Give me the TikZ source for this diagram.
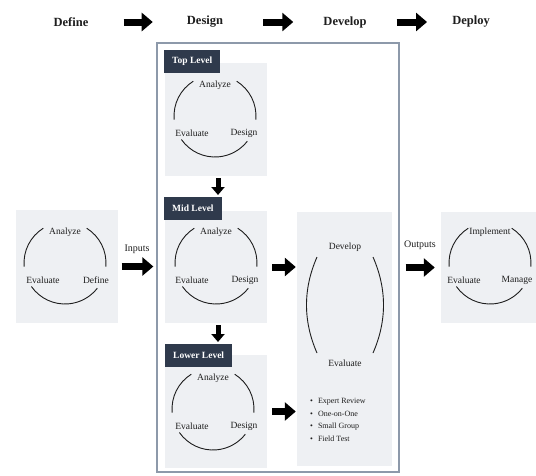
\documentclass[tikz,border=0pt]{standalone}
\usepackage{fontspec}
\setmainfont{Liberation Serif}
\usetikzlibrary{arrows.meta}
\definecolor{Ink}    {HTML}{1E1E1E}
\definecolor{Slate}  {HTML}{2F3A4C}
\definecolor{PanelF} {HTML}{EEF0F3}
\definecolor{Frame}  {HTML}{8D99AA}
\tikzset{
  phase/.style={
    font=\fontsize{12.5}{14}\selectfont\bfseries,
    text=Ink, inner sep=0pt,
  },
  panel/.style={
    rectangle, fill=PanelF, draw=none, inner sep=0pt,
    minimum width=102pt, minimum height=113pt,
  },
  tag/.style={
    rectangle, fill=Slate, text=white, anchor=north west,
    font=\fontsize{9.5}{11}\selectfont\bfseries,
    inner xsep=8pt, inner ysep=0pt, minimum height=23pt,
  },
  word/.style={
    font=\fontsize{9.5}{11}\selectfont, text=Ink, inner sep=1pt,
  },
  cyc/.style={line width=0.9pt, draw=Ink},
  % block arrows
  fat/.style={
    -{Triangle[length=11pt,width=18pt]},
    line width=7pt, draw=black,
  },
  slim/.style={
    -{Triangle[length=8pt,width=13pt]},
    line width=5pt, draw=black,
  },
}
\begin{document}
\begin{tikzpicture}[x=1pt,y=-1pt]
  \useasboundingbox (0,0) rectangle (536,475);

  % phases along the top
  \node[phase] (define)  at (71,22)  {Define};
  \node[phase] (design)  at (205,22) {Design};
  \node[phase] (develop) at (345,22) {Develop};
  \node[phase] (deploy)  at (471,22) {Deploy};
  \draw[fat, shorten <=35pt, shorten >=34pt] (define) -- (design);
  \draw[fat, shorten <=40pt, shorten >=30pt] (design) -- (develop);
  \draw[fat, shorten <=30pt, shorten >=25pt] (develop) -- (deploy);

  \node[draw=Frame, line width=1.3pt, inner sep=0pt,
        minimum width=242pt, minimum height=429pt] (frame) at (278,257.5) {};

  \node[panel] (leftpan) at (66.5,266.5) {};
  \node[panel] (toppan)  at (216,119.5) {};
  \node[panel, minimum height=112pt] (midpan) at (216,267) {};
  \node[panel] (lowpan)  at (216,411.5) {};
  \node[panel, minimum width=95pt, minimum height=254pt] (devpan) at (344.5,339) {};
  \node[panel, minimum width=95pt, minimum height=111pt] (rightpan) at (488.5,267.5) {};

  \node[tag] (toptag) at (164,50)  {Top Level};
  \node[tag] (midtag) at (164,197) {Mid Level};
  \node[tag] (lowtag) at (165,344) {Lower Level};

  \coordinate (cleft)  at (65,263);
  \coordinate (ctop)   at (215,116);
  \coordinate (cmid)   at (216,263);
  \coordinate (clow)   at (213,409);
  \coordinate (cright) at (490,263);

  \foreach \c/\up/\side/\dl/\dr in {cleft/Analyze/Define/-22/31,
      ctop/Analyze/Design/-23/29, cmid/Analyze/Design/-24/29,
      clow/Analyze/Design/-21/31, cright/Implement/Manage/-26/27}{
    \draw[cyc] ([shift={(-122:41)}]\c) arc[start angle=-122, end angle=-185, radius=41];
    \draw[cyc] ([shift={(-58:41)}]\c) arc[start angle=-58, end angle=5, radius=41];
    \draw[cyc] ([shift={(-215:41)}]\c) arc[start angle=-215, end angle=-322, radius=41];
    \node[word] (\c-up)   at ([shift={(0,-31)}]\c)   {\up};
    \node[word] (\c-eval) at ([shift={(\dl,17)}]\c)  {Evaluate};
    \node[word] (\c-side) at ([shift={(\dr,17)}]\c)  {\side};
  }

  % develop / evaluate loop
  \coordinate (cdev) at (345,305);
  \node[word] (devtop) at (345,247) {Develop};
  \node[word] (devbot) at (345,363) {Evaluate};
  \draw[cyc] ([shift={(-28,-48)}]cdev) .. controls ([shift={(-42,-16)}]cdev)
    and ([shift={(-42,16)}]cdev) .. ([shift={(-28,48)}]cdev);
  \draw[cyc] ([shift={(28,-48)}]cdev) .. controls ([shift={(42,-16)}]cdev)
    and ([shift={(42,16)}]cdev) .. ([shift={(28,48)}]cdev);
  \node[word, font=\fontsize{8}{12.5}\selectfont, align=left, inner sep=0pt,
        anchor=north west] (tests) at (310,398)
    {\textbullet\hspace{5pt}Expert Review\\ \textbullet\hspace{5pt}One-on-One\\
     \textbullet\hspace{5pt}Small Group\\ \textbullet\hspace{5pt}Field Test};

  \node[word, font=\fontsize{10}{12}\selectfont] (inputs)  at (137,249) {Inputs};
  \node[word, font=\fontsize{10}{12}\selectfont] (outputs) at (420,245) {Outputs};

  \draw[fat, shorten <=4pt, shorten >=3pt] (leftpan.east) -- (leftpan.east -| frame.west);
  \draw[fat, shorten <=6pt, shorten >=6pt] (frame.east |- rightpan.west) -- (rightpan.west);
  \draw[fat, shorten <=5pt, shorten >=1pt] (midpan.east) -- (midpan.east -| devpan.west);
  \draw[fat, shorten <=5pt, shorten >=1pt] (lowpan.east) -- (lowpan.east -| devpan.west);
  \draw[slim, shorten <=2pt, shorten >=2pt] ([xshift=2pt]toppan.south)
    -- ([xshift=2pt]toppan.south |- midtag.north);
  \draw[slim, shorten <=2pt, shorten >=2pt] ([xshift=2pt]midpan.south)
    -- ([xshift=2pt]midpan.south |- lowtag.north);

\end{tikzpicture}
\end{document}
